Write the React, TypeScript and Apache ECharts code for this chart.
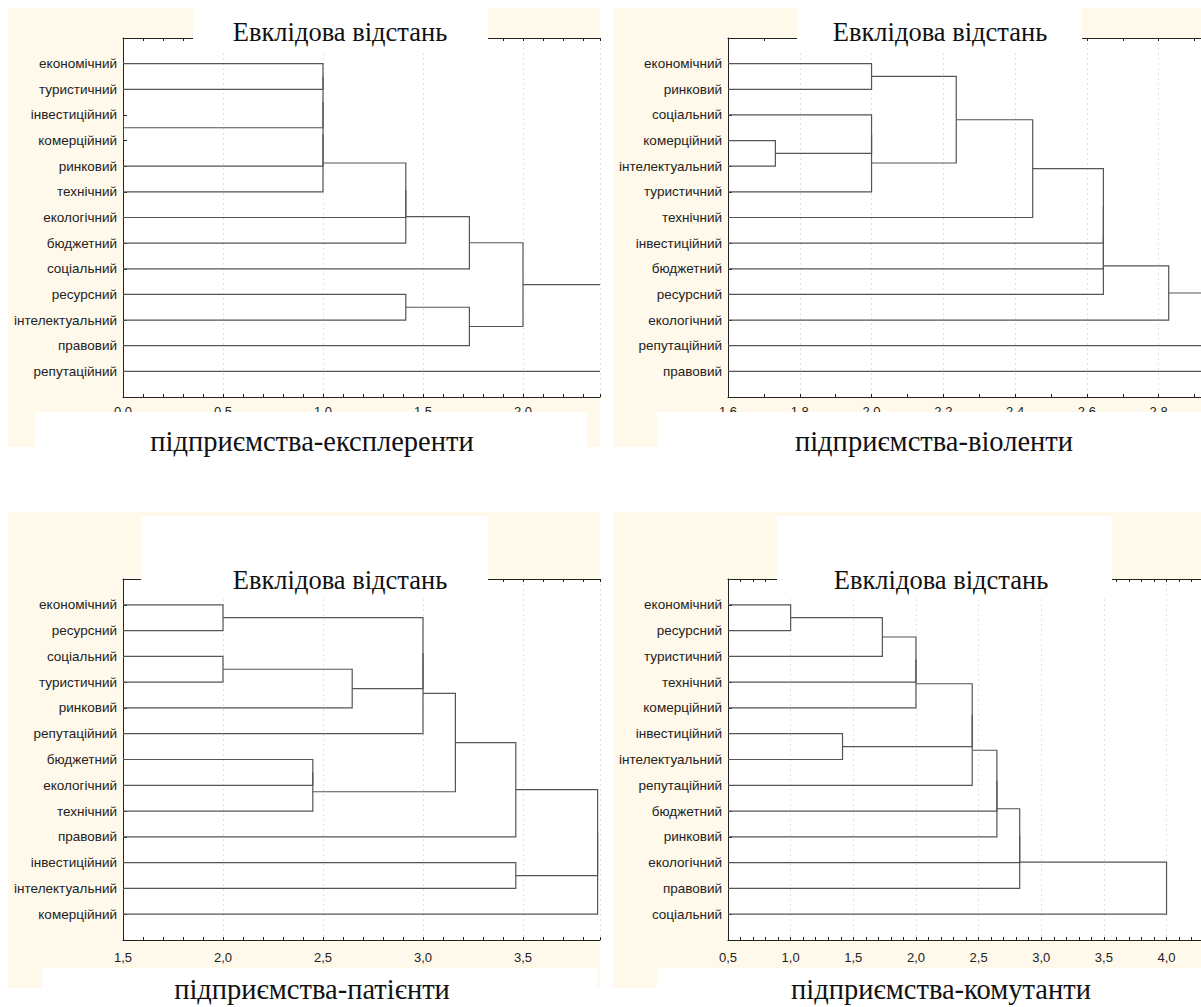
import React, { useEffect, useRef } from "react";
import * as echarts from "echarts";

// ---------- DATA ----------
const distanceTitle = "Евклідова відстань";

// Leaf order (top to bottom) and agglomeration steps [nodeA, nodeB, distance].
// Leaves are 0..12, merge k creates node 13 + k.
const leaves1 = ["економічний", "туристичний", "інвестиційний", "комерційний", "ринковий", "технічний", "екологічний", "бюджетний", "соціальний", "ресурсний", "інтелектуальний", "правовий", "репутаційний"];
const merges1 = [
  [2, 3, 0], [0, 1, 1.0], [14, 13, 1.0], [15, 4, 1.0], [16, 5, 1.0], [17, 6, 1.414], [18, 7, 1.414],
  [19, 8, 1.732], [9, 10, 1.414], [21, 11, 1.732], [20, 22, 2.0], [23, 12, 2.449],
];
const subtitle1 = "підприємства-експлеренти";

const leaves2 = ["економічний", "ринковий", "соціальний", "комерційний", "інтелектуальний", "туристичний", "технічний", "інвестиційний", "бюджетний", "ресурсний", "екологічний", "репутаційний", "правовий"];
const merges2 = [
  [0, 1, 2.0], [3, 4, 1.732], [2, 14, 2.0], [15, 5, 2.0], [13, 16, 2.236], [17, 6, 2.449], [18, 7, 2.646],
  [19, 8, 2.646], [20, 9, 2.646], [21, 10, 2.828], [22, 11, 3.0], [23, 12, 3.162],
];
const subtitle2 = "підприємства-віоленти";

const leaves3 = ["економічний", "ресурсний", "соціальний", "туристичний", "ринковий", "репутаційний", "бюджетний", "екологічний", "технічний", "правовий", "інвестиційний", "інтелектуальний", "комерційний"];
const merges3 = [
  [0, 1, 2.0], [2, 3, 2.0], [14, 4, 2.646], [13, 15, 3.0], [16, 5, 3.0], [6, 7, 2.449], [18, 8, 2.449],
  [17, 19, 3.162], [20, 9, 3.464], [10, 11, 3.464], [21, 22, 3.873], [23, 12, 3.873],
];
const subtitle3 = "підприємства-патієнти";

const leaves4 = ["економічний", "ресурсний", "туристичний", "технічний", "комерційний", "інвестиційний", "інтелектуальний", "репутаційний", "бюджетний", "ринковий", "екологічний", "правовий", "соціальний"];
const merges4 = [
  [0, 1, 1.0], [13, 2, 1.732], [14, 3, 2.0], [15, 4, 2.0], [5, 6, 1.414], [16, 17, 2.449], [18, 7, 2.449],
  [19, 8, 2.646], [20, 9, 2.646], [21, 10, 2.828], [22, 11, 2.828], [23, 12, 4.0],
];
const subtitle4 = "підприємства-комутанти";

// axis ranges per panel
const axisMin = [0, 1.6, 1.5, 0.5];
const axisMax = [2.385, 2.918, 3.885, 4.275];
const axisInterval = [0.5, 0.2, 0.5, 0.5];
const decimalSep = [".", ".", ",", ","];

const panelData = [
  { leaves: leaves1, merges: merges1, subtitle: subtitle1 },
  { leaves: leaves2, merges: merges2, subtitle: subtitle2 },
  { leaves: leaves3, merges: merges3, subtitle: subtitle3 },
  { leaves: leaves4, merges: merges4, subtitle: subtitle4 },
];

// ---------- LAYOUT / STYLE ----------
const CREAM = "#FFF9EC";
const layouts = [
  { grid: { left: 123, top: 38, width: 477, height: 359 }, cream: [8, 8, 592, 439], titleBox: [193, 8, 295, 42], subBox: [35, 412, 552, 52], titleXY: [340, 32], subXY: [312, 441], labelMargin: 8, minorSplit: 5 },
  { grid: { left: 728, top: 38, width: 473, height: 359 }, cream: [613, 8, 588, 439], titleBox: [797, 8, 285, 42], subBox: [657, 412, 544, 52], titleXY: [940, 32], subXY: [934, 441], labelMargin: 8, minorSplit: 2 },
  { grid: { left: 123, top: 579, width: 477, height: 361 }, cream: [8, 512, 592, 476], titleBox: [141, 516, 347, 80], subBox: [42, 968, 555, 39], titleXY: [340, 580], subXY: [312, 989], labelMargin: 11, minorSplit: 5 },
  { grid: { left: 728, top: 579, width: 473, height: 361 }, cream: [613, 512, 588, 476], titleBox: [777, 516, 335, 80], subBox: [657, 968, 544, 39], titleXY: [941, 580], subXY: [941, 989], labelMargin: 11, minorSplit: 5 },
];

const SANS = "Liberation Sans";
const SERIF = "Liberation Serif";
const AXIS_COLOR = "#222";

function buildLinks(n: number, merges: number[][], min: number) {
  const ys: number[] = [];
  const hs: number[] = [];
  for (let i = 0; i < n; i++) {
    ys.push(i);
    hs.push(0);
  }
  const links: number[][] = [];
  merges.forEach(([a, b, h]) => {
    links.push([Math.max(hs[a], min), ys[a], h, Math.max(hs[b], min), ys[b]]);
    ys.push((ys[a] + ys[b]) / 2);
    hs.push(h);
  });
  return links;
}

const renderItem = (params: any, api: any) => {
  const xa = api.value(0);
  const ya = api.value(1);
  const h = api.value(2);
  const xb = api.value(3);
  const yb = api.value(4);
  const pts = [api.coord([xa, ya]), api.coord([h, ya]), api.coord([h, yb]), api.coord([xb, yb])];
  return {
    type: "polyline",
    shape: { points: pts },
    style: { stroke: "#555", lineWidth: 1.2, fill: "none" },
  };
};

export default function App() {
  const ref = useRef<HTMLDivElement>(null);

  useEffect(() => {
    if (!ref.current) return;
    const chart = echarts.init(ref.current, undefined, { renderer: "svg" });

    const grids = layouts.map((l) => ({ ...l.grid, show: false }));

    const bottomAxes = panelData.map((p, i) => ({
      type: "value",
      gridIndex: i,
      position: "bottom",
      min: axisMin[i],
      max: axisMax[i],
      interval: axisInterval[i],
      axisLine: { show: true, onZero: false, lineStyle: { color: AXIS_COLOR, width: 1 } },
      axisTick: { show: true, inside: true, length: 3, lineStyle: { color: AXIS_COLOR } },
      minorTick: { show: true, splitNumber: layouts[i].minorSplit, length: 3, lineStyle: { color: AXIS_COLOR } },
      axisLabel: {
        show: true,
        margin: layouts[i].labelMargin,
        fontSize: 13,
        fontFamily: SANS,
        color: AXIS_COLOR,
        showMaxLabel: false,
        formatter: (v: number) => v.toFixed(1).replace(".", decimalSep[i]),
      },
      splitLine: { show: true, lineStyle: { color: "#e2e2e2", type: [2, 3], width: 1 } },
    }));

    const topAxes = panelData.map((p, i) => ({
      type: "value",
      gridIndex: i,
      position: "top",
      min: axisMin[i],
      max: axisMax[i],
      interval: axisInterval[i],
      axisLine: { show: true, onZero: false, lineStyle: { color: AXIS_COLOR, width: 1 } },
      axisTick: { show: true, inside: true, length: 3, lineStyle: { color: AXIS_COLOR } },
      minorTick: { show: true, splitNumber: layouts[i].minorSplit, length: 3, lineStyle: { color: AXIS_COLOR } },
      axisLabel: { show: false },
      splitLine: { show: false },
    }));

    const yAxes = panelData.map((p, i) => ({
      type: "value",
      gridIndex: i,
      min: -1,
      max: 13,
      interval: 1,
      inverse: true,
      axisLine: { show: true, onZero: false, lineStyle: { color: AXIS_COLOR, width: 1 } },
      axisTick: { show: true, inside: true, length: 4, lineStyle: { color: AXIS_COLOR } },
      axisLabel: {
        margin: 6,
        fontSize: 13.5,
        fontFamily: SANS,
        color: AXIS_COLOR,
        formatter: (v: number) => (Number.isInteger(v) && v >= 0 && v < p.leaves.length ? p.leaves[v] : ""),
      },
      splitLine: { show: false },
    }));

    const series = panelData.map((p, i) => ({
      type: "custom",
      xAxisIndex: i,
      yAxisIndex: i,
      clip: true,
      silent: true,
      renderItem,
      encode: { x: [0, 2, 3], y: [1, 4] },
      data: buildLinks(p.leaves.length, p.merges, axisMin[i]),
    }));

    const elements: any[] = [];
    layouts.forEach((l, i) => {
      elements.push({ type: "rect", z: -20, silent: true, shape: { x: l.cream[0], y: l.cream[1], width: l.cream[2], height: l.cream[3] }, style: { fill: CREAM } });
      elements.push({ type: "rect", z: -10, silent: true, shape: { x: l.grid.left, y: l.grid.top, width: l.grid.width, height: l.grid.height }, style: { fill: "#fff" } });
      elements.push({ type: "rect", z: 100, silent: true, shape: { x: l.titleBox[0], y: l.titleBox[1], width: l.titleBox[2], height: l.titleBox[3] }, style: { fill: "#fff" } });
      elements.push({ type: "rect", z: 100, silent: true, shape: { x: l.subBox[0], y: l.subBox[1], width: l.subBox[2], height: l.subBox[3] }, style: { fill: "#fff" } });
      elements.push({
        type: "text", z: 110, silent: true, x: l.titleXY[0], y: l.titleXY[1],
        style: { text: distanceTitle, fontSize: 26.5, fontFamily: SERIF, fill: "#111", align: "center", verticalAlign: "middle" },
      });
      elements.push({
        type: "text", z: 110, silent: true, x: l.subXY[0], y: l.subXY[1],
        style: { text: panelData[i].subtitle, fontSize: 28.5, fontFamily: SERIF, fill: "#111", align: "center", verticalAlign: "middle" },
      });
    });

    chart.setOption({
      animation: false,
      backgroundColor: "#ffffff",
      grid: grids,
      xAxis: [...bottomAxes, ...topAxes],
      yAxis: yAxes,
      series,
      graphic: { elements },
    } as any);

    return () => chart.dispose();
  }, []);

  return (
    <div
      ref={ref}
      style={{ position: "absolute", left: 0, top: 0, width: 1201, height: 1007 }}
    />
  );
}
